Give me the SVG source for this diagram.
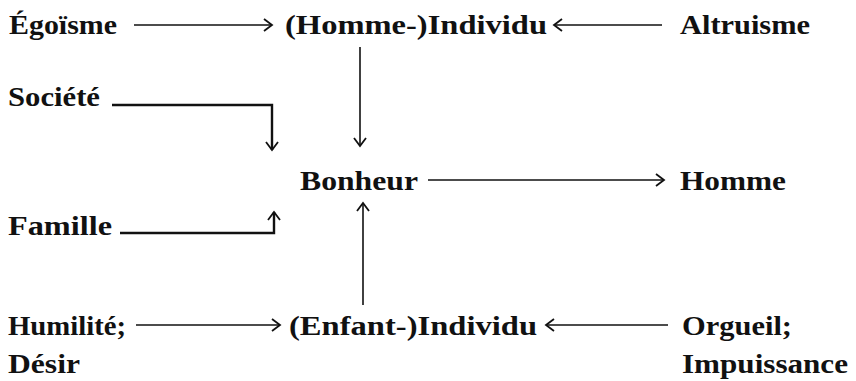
<svg xmlns="http://www.w3.org/2000/svg" width="856" height="381" viewBox="0 0 856 381">
  <style>
    .lbl { font-family: "Liberation Serif", "Times New Roman", serif; font-weight: bold; font-size: 28px; fill: #111; }
    .edge { fill: none; stroke: #111; stroke-width: 1.6; }
    .edge.thick { stroke-width: 2.4; }
  </style>
  <defs>
    <marker id="chev" markerUnits="userSpaceOnUse" markerWidth="14" markerHeight="16" refX="10" refY="7" orient="auto">
      <path d="M2,1 L10,7 L2,13" fill="none" stroke="#111" stroke-width="1.8"/>
    </marker>
  </defs>
  <rect width="856" height="381" fill="#fff"/>

  <g id="connectors">
    <line class="edge" x1="134" y1="25" x2="272" y2="25" marker-end="url(#chev)"/>
    <line class="edge" x1="662" y1="25" x2="554" y2="25" marker-end="url(#chev)"/>
    <line class="edge" x1="360" y1="47" x2="360" y2="146" marker-end="url(#chev)"/>
    <path class="edge thick" d="M112,105 H272 V150" marker-end="url(#chev)"/>
    <line class="edge" x1="428" y1="180" x2="664" y2="180" marker-end="url(#chev)"/>
    <path class="edge thick" d="M120,233 H274 V212" marker-end="url(#chev)"/>
    <line class="edge" x1="363" y1="305" x2="363" y2="203" marker-end="url(#chev)"/>
    <line class="edge" x1="136" y1="325" x2="280" y2="325" marker-end="url(#chev)"/>
    <line class="edge" x1="668" y1="325" x2="546" y2="325" marker-end="url(#chev)"/>
  </g>

  <g id="egoisme"><text class="lbl" x="9" y="34" textLength="108" lengthAdjust="spacingAndGlyphs">Égoïsme</text></g>
  <g id="homme-individu"><text class="lbl" x="285" y="34" textLength="262" lengthAdjust="spacingAndGlyphs">(Homme-)Individu</text></g>
  <g id="altruisme"><text class="lbl" x="680" y="34" textLength="130" lengthAdjust="spacingAndGlyphs">Altruisme</text></g>
  <g id="societe"><text class="lbl" x="8" y="106" textLength="92" lengthAdjust="spacingAndGlyphs">Société</text></g>
  <g id="bonheur"><text class="lbl" x="300" y="190" textLength="118" lengthAdjust="spacingAndGlyphs">Bonheur</text></g>
  <g id="homme"><text class="lbl" x="680" y="190" textLength="106" lengthAdjust="spacingAndGlyphs">Homme</text></g>
  <g id="famille"><text class="lbl" x="8" y="235" textLength="104" lengthAdjust="spacingAndGlyphs">Famille</text></g>
  <g id="humilite-desir">
    <text class="lbl" x="8" y="335" textLength="118" lengthAdjust="spacingAndGlyphs">Humilité;</text>
    <text class="lbl" x="8" y="373" textLength="72" lengthAdjust="spacingAndGlyphs">Désir</text>
  </g>
  <g id="enfant-individu"><text class="lbl" x="289" y="335" textLength="248" lengthAdjust="spacingAndGlyphs">(Enfant-)Individu</text></g>
  <g id="orgueil-impuissance">
    <text class="lbl" x="682" y="335" textLength="110" lengthAdjust="spacingAndGlyphs">Orgueil;</text>
    <text class="lbl" x="682" y="373" textLength="166" lengthAdjust="spacingAndGlyphs">Impuissance</text>
  </g>
</svg>
